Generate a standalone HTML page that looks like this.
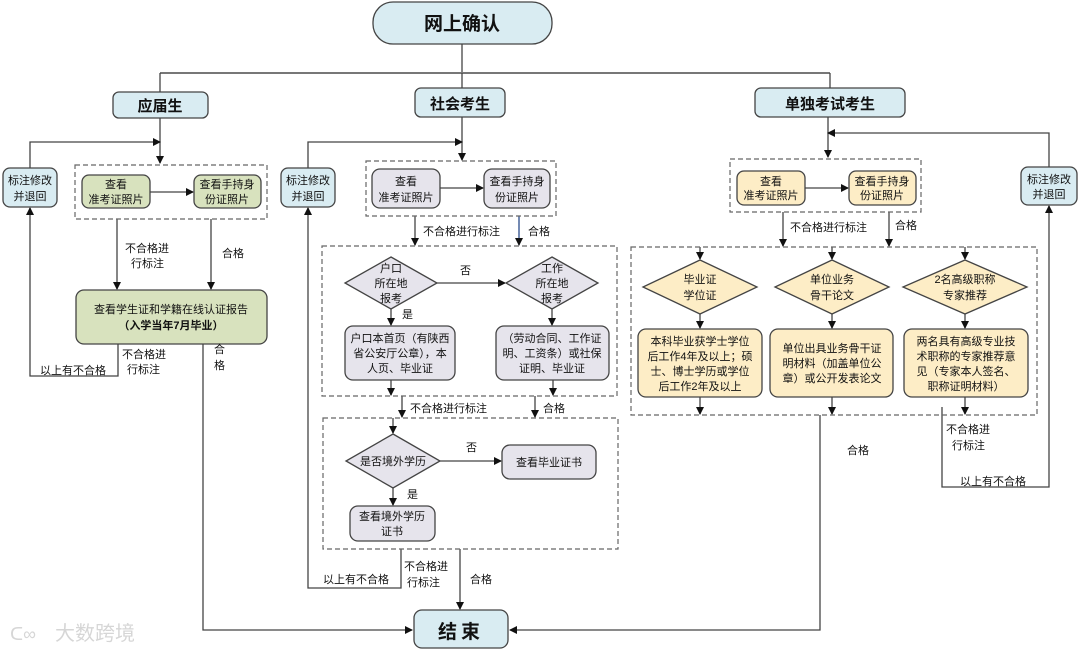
<!DOCTYPE html>
<html><head><meta charset="utf-8"><style>
html,body{margin:0;padding:0;background:#fff;width:1080px;height:652px;overflow:hidden}
svg text{font-family:"Liberation Sans","Noto Sans CJK SC",sans-serif;fill:#111}
</style></head><body>
<svg width="1080" height="652" viewBox="0 0 1080 652" xmlns="http://www.w3.org/2000/svg">
<defs><marker id="a" markerWidth="8" markerHeight="8" refX="7" refY="4" orient="auto" markerUnits="userSpaceOnUse"><path d="M0,0 L8,4 L0,8 z" fill="#111"/></marker></defs>
<g fill="none" stroke="#444" stroke-width="1.3">
<!-- top -->
<line x1="462" y1="44" x2="462" y2="73"/>
<line x1="160" y1="73" x2="830" y2="73" stroke="#777" stroke-width="2"/>
<line x1="160" y1="73" x2="160" y2="92"/><line x1="462" y1="73" x2="462" y2="88"/><line x1="830" y1="73" x2="830" y2="88"/>
<!-- left -->
<line x1="160" y1="118" x2="160" y2="163" marker-end="url(#a)"/>
<polyline points="30,168 30,142 160,142" marker-end="url(#a)"/>
<line x1="150" y1="192" x2="193" y2="192" marker-end="url(#a)"/>
<line x1="117" y1="219" x2="117" y2="289" marker-end="url(#a)"/>
<line x1="211" y1="219" x2="211" y2="289" marker-end="url(#a)"/>
<polyline points="118,344 118,376 30,376 30,208" marker-end="url(#a)"/>
<polyline points="203,344 203,630 412,630" marker-end="url(#a)"/>
<!-- middle -->
<line x1="462" y1="117" x2="462" y2="160" marker-end="url(#a)"/>
<polyline points="308,168 308,142 462,142" marker-end="url(#a)"/>
<line x1="440" y1="188" x2="483" y2="188" marker-end="url(#a)"/>
<line x1="415" y1="216" x2="415" y2="245" marker-end="url(#a)"/>
<line x1="519" y1="216" x2="519" y2="245" marker-end="url(#a)" stroke="#2a4a8a"/>
<line x1="437" y1="283" x2="505" y2="283" marker-end="url(#a)"/>
<line x1="391" y1="309" x2="391" y2="325" marker-end="url(#a)"/>
<line x1="552" y1="309" x2="552" y2="325" marker-end="url(#a)"/>
<line x1="391" y1="380" x2="391" y2="395" marker-end="url(#a)"/>
<line x1="553" y1="380" x2="553" y2="395" marker-end="url(#a)"/>
<line x1="402" y1="396" x2="402" y2="417" marker-end="url(#a)"/>
<line x1="535" y1="396" x2="535" y2="417" marker-end="url(#a)"/>
<line x1="393" y1="418" x2="393" y2="433" marker-end="url(#a)"/>
<line x1="440" y1="461" x2="501" y2="461" marker-end="url(#a)"/>
<line x1="393" y1="488" x2="393" y2="505" marker-end="url(#a)"/>
<polyline points="401,549 401,588 308,588 308,208" marker-end="url(#a)"/>
<line x1="460" y1="549" x2="460" y2="609" marker-end="url(#a)"/>
<!-- right -->
<line x1="828" y1="117" x2="828" y2="157" marker-end="url(#a)"/>
<polyline points="1049,167 1049,133 828,133" marker-end="url(#a)"/>
<line x1="805" y1="188" x2="848" y2="188" marker-end="url(#a)"/>
<line x1="783" y1="212" x2="783" y2="246" marker-end="url(#a)"/>
<line x1="889" y1="212" x2="889" y2="246" marker-end="url(#a)"/>
<line x1="700" y1="247" x2="700" y2="259" marker-end="url(#a)"/>
<line x1="832" y1="247" x2="832" y2="259" marker-end="url(#a)"/>
<line x1="965" y1="247" x2="965" y2="259" marker-end="url(#a)"/>
<line x1="700" y1="314" x2="700" y2="328" marker-end="url(#a)"/>
<line x1="832" y1="314" x2="832" y2="328" marker-end="url(#a)"/>
<line x1="965" y1="314" x2="965" y2="328" marker-end="url(#a)"/>
<line x1="700" y1="397" x2="700" y2="414" marker-end="url(#a)"/>
<line x1="832" y1="397" x2="832" y2="414" marker-end="url(#a)"/>
<line x1="965" y1="397" x2="965" y2="414" marker-end="url(#a)"/>
<polyline points="820,415 820,630 510,630" marker-end="url(#a)"/>
<polyline points="942,407 942,487 1049,487 1049,206" marker-end="url(#a)"/>
</g>
<!-- dashed boxes -->
<g fill="none" stroke="#666" stroke-width="1.2" stroke-dasharray="5,3">
<rect x="75" y="165" width="192" height="54"/>
<rect x="366" y="161" width="190" height="55"/>
<rect x="322" y="246" width="295" height="150"/>
<rect x="323" y="418" width="295" height="131"/>
<rect x="730" y="159" width="191" height="53"/>
<rect x="631" y="247" width="406" height="168"/>
</g>
<!-- blue boxes -->
<g stroke="#444" stroke-width="1.3" fill="#d9ecf2">
<rect x="373" y="2" width="179" height="42" rx="20"/>
<rect x="113" y="92" width="95" height="26" rx="6"/>
<rect x="415" y="88" width="90" height="29" rx="6"/>
<rect x="755" y="88" width="150" height="29" rx="6"/>
<rect x="3" y="168" width="54" height="39" rx="7"/>
<rect x="281" y="168" width="54" height="39" rx="7"/>
<rect x="1021" y="167" width="56" height="38" rx="7"/>
<rect x="414" y="610" width="94" height="38" rx="8"/>
</g>
<g stroke="#444" stroke-width="1.3" fill="#d8e2be">
<rect x="82" y="175" width="68" height="33" rx="7"/>
<rect x="194" y="175" width="67" height="33" rx="7"/>
<rect x="76" y="290" width="191" height="54" rx="8"/>
</g>
<g stroke="#444" stroke-width="1.3" fill="#e6e4ec">
<rect x="372" y="169" width="68" height="39" rx="8"/>
<rect x="484" y="169" width="66" height="39" rx="8"/>
<polygon points="391,257 437,283 391,309 345,283"/>
<polygon points="552,257 598,283 552,309 506,283"/>
<rect x="345" y="326" width="110" height="54" rx="8"/>
<rect x="496" y="326" width="113" height="54" rx="8"/>
<polygon points="393,434 440,461 393,488 346,461"/>
<rect x="502" y="445" width="94" height="34" rx="8"/>
<rect x="350" y="506" width="85" height="35" rx="8"/>
</g>
<g stroke="#444" stroke-width="1.3" fill="#fdedc6">
<rect x="737" y="171" width="68" height="34" rx="7"/>
<rect x="849" y="171" width="67" height="34" rx="7"/>
<polygon points="700,260 757,287 700,314 643,287"/>
<polygon points="832,260 889,287 832,314 775,287"/>
<polygon points="965,260 1027,287 965,314 903,287"/>
<rect x="638" y="329" width="124" height="68" rx="8"/>
<rect x="770" y="329" width="123" height="68" rx="8"/>
<rect x="904" y="329" width="124" height="68" rx="8"/>
</g>
<!-- texts -->
<g text-anchor="middle" font-size="11">
<text x="462" y="30" font-size="19" font-weight="bold">网上确认</text>
<text x="160" y="111" font-size="15" font-weight="bold">应届生</text>
<text x="460" y="109" font-size="15" font-weight="bold">社会考生</text>
<text x="830" y="109" font-size="15" font-weight="bold">单独考试考生</text>
<text x="461" y="638" font-size="19" font-weight="bold" letter-spacing="4">结束</text>
<text x="30" y="184">标注修改</text><text x="30" y="200">并退回</text>
<text x="308" y="184">标注修改</text><text x="308" y="200">并退回</text>
<text x="1049" y="183">标注修改</text><text x="1049" y="198">并退回</text>
<text x="116" y="188">查看</text><text x="116" y="203">准考证照片</text>
<text x="227" y="188">查看手持身</text><text x="227" y="203">份证照片</text>
<text x="171" y="313">查看学生证和学籍在线认证报告</text>
<text x="171" y="329" font-weight="bold">（入学当年7月毕业）</text>
<text x="406" y="185">查看</text><text x="406" y="201">准考证照片</text>
<text x="517" y="185">查看手持身</text><text x="517" y="201">份证照片</text>
<text x="391" y="272">户口</text><text x="391" y="287">所在地</text><text x="391" y="302">报考</text>
<text x="552" y="272">工作</text><text x="552" y="287">所在地</text><text x="552" y="302">报考</text>
<text x="400" y="342">户口本首页（有陕西</text><text x="400" y="357">省公安厅公章），本</text><text x="400" y="372">人页、毕业证</text>
<text x="552" y="342">（劳动合同、工作证</text><text x="552" y="357">明、工资条）或社保</text><text x="552" y="372">证明、毕业证</text>
<text x="393" y="465">是否境外学历</text>
<text x="549" y="466">查看毕业证书</text>
<text x="392" y="520">查看境外学历</text><text x="392" y="535">证书</text>
<text x="771" y="185">查看</text><text x="771" y="199">准考证照片</text>
<text x="882" y="185">查看手持身</text><text x="882" y="199">份证照片</text>
<text x="700" y="283">毕业证</text><text x="700" y="299">学位证</text>
<text x="832" y="283">单位业务</text><text x="832" y="299">骨干论文</text>
<text x="965" y="283">2名高级职称</text><text x="965" y="299">专家推荐</text>
<text x="700" y="345">本科毕业获学士学位</text><text x="700" y="360">后工作4年及以上；硕</text><text x="700" y="375">士、博士学历或学位</text><text x="700" y="390">后工作2年及以上</text>
<text x="832" y="352">单位出具业务骨干证</text><text x="832" y="367">明材料（加盖单位公</text><text x="832" y="382">章）或公开发表论文</text>
<text x="966" y="345">两名具有高级专业技</text><text x="966" y="360">术职称的专家推荐意</text><text x="966" y="375">见（专家本人签名、</text><text x="966" y="390">职称证明材料）</text>
</g>
<g font-size="11">
<text x="125" y="252">不合格进</text><text x="131" y="267">行标注</text>
<text x="222" y="257">合格</text>
<text x="122" y="358">不合格进</text><text x="127" y="373">行标注</text>
<text x="40" y="374">以上有不合格</text>
<text x="214" y="353">合</text><text x="214" y="369">格</text>
<text x="423" y="235">不合格进行标注</text>
<text x="528" y="235">合格</text>
<text x="460" y="274">否</text>
<text x="402" y="318">是</text>
<text x="410" y="412">不合格进行标注</text>
<text x="543" y="412">合格</text>
<text x="466" y="451">否</text>
<text x="407" y="498">是</text>
<text x="323" y="583">以上有不合格</text>
<text x="404" y="570">不合格进</text><text x="407" y="586">行标注</text>
<text x="470" y="583">合格</text>
<text x="790" y="231">不合格进行标注</text>
<text x="895" y="229">合格</text>
<text x="847" y="454">合格</text>
<text x="946" y="433">不合格进</text><text x="952" y="449">行标注</text>
<text x="960" y="485">以上有不合格</text>
</g>
<text x="55" y="640" font-size="20" style="fill:#d6d6d6">大数跨境</text>
<text x="10" y="640" font-size="18" style="fill:#d6d6d6">ᑕ∞</text>
</svg>
</body></html>
